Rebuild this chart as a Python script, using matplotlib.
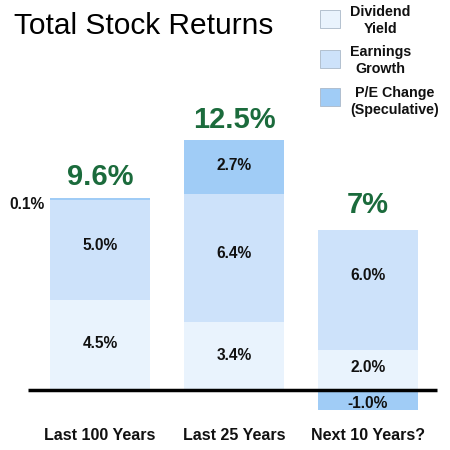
import matplotlib
matplotlib.use("Agg")
import matplotlib.pyplot as plt
from matplotlib.patches import Rectangle

categories = ["Last 100 Years", "Last 25 Years", "Next 10 Years?"]
dividend = [4.5, 3.4, 2.0]
earnings = [5.0, 6.4, 6.0]
pe_change = [0.1, 2.7, -1.0]
totals = ["9.6%", "12.5%", "7%"]
legend_labels = ["Dividend\nYield", "Earnings\nGrowth", "P/E Change\n(Speculative)"]

c_div = "#e9f3fd"
c_earn = "#cde2fa"
c_pe = "#a0ccf6"
green = "#1b6b3c"

# label nudges (in value units) relative to segment centres / bar tops
div_nudge = [0.1, 0.05, 0.1]
earn_nudge = [0.25, 0.25, 0.7]
total_nudge = [1.05, 1.0, 1.25]

plt.rcParams['font.family'] = ['Liberation Sans', 'DejaVu Sans']

fig = plt.figure(figsize=(4.5, 4.5), dpi=100)
ax = fig.add_axes([0, 0, 1, 1])
ax.set_xlim(-0.746, 2.612)
ax.set_ylim(-3.0, 19.5)
ax.axis('off')

x = list(range(len(categories)))
w = 0.746

ax.bar(x, dividend, width=w, color=c_div, zorder=1)
ax.bar(x, earnings, width=w, bottom=dividend, color=c_earn, zorder=1)
pe_bottom = [d + e if p >= 0 else 0 for d, e, p in zip(dividend, earnings, pe_change)]
ax.bar(x, pe_change, width=w, bottom=pe_bottom, color=c_pe, zorder=1)

# baseline
ax.plot([-0.537, 2.515], [0, 0], color="black", lw=2.5, zorder=3, solid_capstyle='butt')

lab_kw = dict(ha="center", va="center", fontsize=11.2, fontweight="bold", color="#111111")
for i in x:
    ax.text(i, dividend[i] / 2 + div_nudge[i], f"{dividend[i]:.1f}%", **lab_kw)
    ax.text(i, dividend[i] + earnings[i] / 2 + earn_nudge[i], f"{earnings[i]:.1f}%", **lab_kw)
    top = dividend[i] + earnings[i] + max(pe_change[i], 0)
    ax.text(i, top + total_nudge[i], totals[i], ha="center", va="center", fontsize=21,
            fontweight="bold", color=green)

# P/E labels
ax.text(1, dividend[1] + earnings[1] + pe_change[1] / 2 + 0.1, f"{pe_change[1]:.1f}%", **lab_kw)
ax.text(2, pe_change[2] / 2 - 0.15, f"{pe_change[2]:.1f}%", **lab_kw)
ax.text(-0.41, dividend[0] + earnings[0] + pe_change[0] - 0.3, f"{pe_change[0]:.1f}%",
        ha="right", va="center", fontsize=11.2, fontweight="bold", color="#111111")

for i in x:
    ax.text(i, -2.3, categories[i], ha="center", va="center", fontsize=11.5,
            fontweight="bold", color="#111111")

# title
fig.text(0.03, 0.942, "Total Stock Returns", ha="left", va="center", fontsize=21.5,
         color="black")

# legend
colors = [c_div, c_earn, c_pe]
box_ys = [0.958, 0.869, 0.784]
text_ys = [0.955, 0.866, 0.775]
for lab, col, by, ty in zip(legend_labels, colors, box_ys, text_ys):
    fig.patches.append(Rectangle((0.712, by - 0.02), 0.044, 0.04, transform=fig.transFigure,
                                 facecolor=col, edgecolor="#aab8c8", lw=0.6))
    fig.text(0.778, ty, lab, ha="left", va="center", multialignment="center",
             fontsize=10.3, fontweight="bold", color="#111111", linespacing=1.25)

fig.savefig("out.png", dpi=100, facecolor="white")
